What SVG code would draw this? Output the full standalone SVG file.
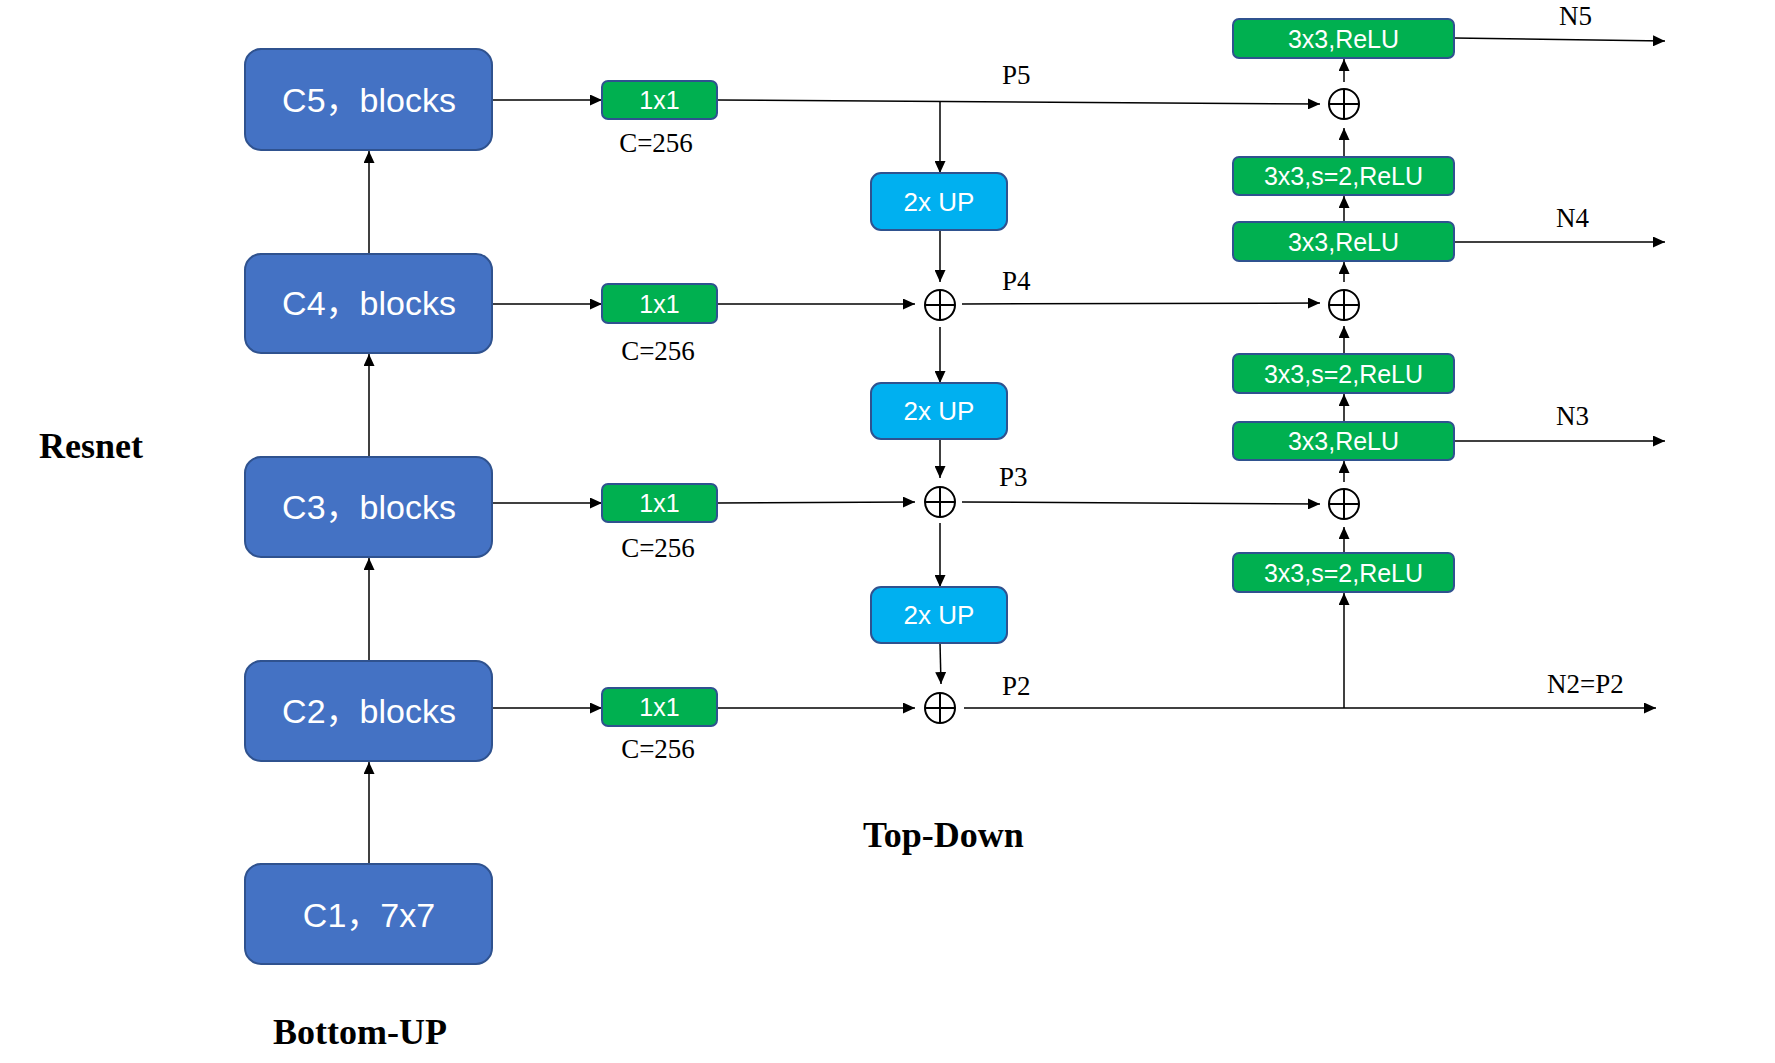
<svg xmlns="http://www.w3.org/2000/svg" width="1775" height="1063" viewBox="0 0 1775 1063">
<style>
.bg{fill:#ffffff}
.cbox{fill:#4472C4;stroke:#2F528F;stroke-width:2}
.gbox{fill:#00B050;stroke:#2F528F;stroke-width:2}
.ubox{fill:#00B0F0;stroke:#2F528F;stroke-width:2}
.ct{font-family:"Liberation Sans","Noto Sans CJK SC",Arial,sans-serif;font-size:34px;fill:#ffffff;text-anchor:middle}
.gt{font-family:"Liberation Sans",Arial,sans-serif;font-size:25px;fill:#ffffff;text-anchor:middle}
.ut{font-family:"Liberation Sans",Arial,sans-serif;font-size:26px;fill:#ffffff;text-anchor:middle}
.lbl{font-family:"Liberation Serif","Times New Roman",serif;font-size:27px;fill:#000000}
.hdr{font-family:"Liberation Serif","Times New Roman",serif;font-size:36px;font-weight:bold;fill:#000000}
.ln{fill:none;stroke:#000000;stroke-width:1.5}
.arr{fill:none;stroke:#000000;stroke-width:1.5;marker-end:url(#ah)}
.sum circle{fill:none;stroke:#000000;stroke-width:2}
.sum line{stroke:#000000;stroke-width:2}
</style>
<defs>
<marker id="ah" markerUnits="userSpaceOnUse" markerWidth="12" markerHeight="11" refX="12" refY="5.5" orient="auto">
<path d="M0,0 L12,5.5 L0,11 z" fill="#000000"/>
</marker>
</defs>
<rect class="bg" x="0" y="0" width="1775" height="1063"/>

<g id="connectors">
<line class="arr" x1="369" y1="864" x2="369" y2="762"/>
<line class="arr" x1="369" y1="661" x2="369" y2="558"/>
<line class="arr" x1="369" y1="457" x2="369" y2="354"/>
<line class="arr" x1="369" y1="254" x2="369" y2="151"/>
<line class="arr" x1="492" y1="100" x2="602" y2="100"/>
<line class="arr" x1="492" y1="304" x2="602" y2="304"/>
<line class="arr" x1="492" y1="503" x2="602" y2="503"/>
<line class="arr" x1="492" y1="708" x2="602" y2="708"/>
<line class="arr" x1="717" y1="100" x2="1320" y2="104"/>
<line class="arr" x1="940" y1="101.5" x2="940" y2="173"/>
<line class="arr" x1="717" y1="304" x2="915" y2="304"/>
<line class="arr" x1="717" y1="503" x2="915" y2="502"/>
<line class="arr" x1="717" y1="708" x2="915" y2="708"/>
<line class="arr" x1="940" y1="230" x2="940" y2="282"/>
<line class="arr" x1="940" y1="327" x2="940" y2="383"/>
<line class="arr" x1="940" y1="439" x2="940" y2="478"/>
<line class="arr" x1="940" y1="523" x2="940" y2="587"/>
<line class="arr" x1="940" y1="643" x2="941" y2="684"/>
<line class="arr" x1="962" y1="304" x2="1320" y2="303"/>
<line class="arr" x1="962" y1="502" x2="1320" y2="504"/>
<line class="arr" x1="964" y1="708" x2="1656" y2="708"/>
<line class="arr" x1="1344" y1="708" x2="1344" y2="593"/>
<line class="arr" x1="1344" y1="82" x2="1344" y2="59"/>
<line class="arr" x1="1344" y1="157" x2="1344" y2="128"/>
<line class="arr" x1="1344" y1="222" x2="1344" y2="196"/>
<line class="arr" x1="1344" y1="282" x2="1344" y2="262"/>
<line class="arr" x1="1344" y1="354" x2="1344" y2="326"/>
<line class="arr" x1="1344" y1="422" x2="1344" y2="394"/>
<line class="arr" x1="1344" y1="482" x2="1344" y2="461"/>
<line class="arr" x1="1344" y1="553" x2="1344" y2="527"/>
<line class="arr" x1="1454" y1="38" x2="1665" y2="41"/>
<line class="arr" x1="1454" y1="242" x2="1665" y2="242"/>
<line class="arr" x1="1454" y1="441" x2="1665" y2="441"/>
</g>

<g id="c5"><rect class="cbox" x="245" y="49" width="247" height="101" rx="16"/><text class="ct" x="369" y="112">C5，blocks</text></g>
<g id="c4"><rect class="cbox" x="245" y="254" width="247" height="99" rx="16"/><text class="ct" x="369" y="315">C4，blocks</text></g>
<g id="c3"><rect class="cbox" x="245" y="457" width="247" height="100" rx="16"/><text class="ct" x="369" y="519">C3，blocks</text></g>
<g id="c2"><rect class="cbox" x="245" y="661" width="247" height="100" rx="16"/><text class="ct" x="369" y="723">C2，blocks</text></g>
<g id="c1"><rect class="cbox" x="245" y="864" width="247" height="100" rx="16"/><text class="ct" x="369" y="927">C1，7x7</text></g>

<g id="l5"><rect class="gbox" x="602" y="81" width="115" height="38" rx="6"/><text class="gt" x="659.5" y="109">1x1</text></g>
<g id="l4"><rect class="gbox" x="602" y="284" width="115" height="39" rx="6"/><text class="gt" x="659.5" y="313">1x1</text></g>
<g id="l3"><rect class="gbox" x="602" y="484" width="115" height="38" rx="6"/><text class="gt" x="659.5" y="512">1x1</text></g>
<g id="l2"><rect class="gbox" x="602" y="688" width="115" height="38" rx="6"/><text class="gt" x="659.5" y="716">1x1</text></g>

<g id="up1"><rect class="ubox" x="871" y="173" width="136" height="57" rx="10"/><text class="ut" x="939" y="211">2x UP</text></g>
<g id="up2"><rect class="ubox" x="871" y="383" width="136" height="56" rx="10"/><text class="ut" x="939" y="420">2x UP</text></g>
<g id="up3"><rect class="ubox" x="871" y="587" width="136" height="56" rx="10"/><text class="ut" x="939" y="624">2x UP</text></g>

<g id="sumP4" class="sum"><circle cx="940" cy="305" r="15"/><line x1="925" y1="305" x2="955" y2="305"/><line x1="940" y1="290" x2="940" y2="320"/></g>
<g id="sumP3" class="sum"><circle cx="940" cy="502" r="15"/><line x1="925" y1="502" x2="955" y2="502"/><line x1="940" y1="487" x2="940" y2="517"/></g>
<g id="sumP2" class="sum"><circle cx="940" cy="708" r="15"/><line x1="925" y1="708" x2="955" y2="708"/><line x1="940" y1="693" x2="940" y2="723"/></g>
<g id="sumN5" class="sum"><circle cx="1344" cy="104" r="15"/><line x1="1329" y1="104" x2="1359" y2="104"/><line x1="1344" y1="89" x2="1344" y2="119"/></g>
<g id="sumN4" class="sum"><circle cx="1344" cy="305" r="15"/><line x1="1329" y1="305" x2="1359" y2="305"/><line x1="1344" y1="290" x2="1344" y2="320"/></g>
<g id="sumN3" class="sum"><circle cx="1344" cy="504" r="15"/><line x1="1329" y1="504" x2="1359" y2="504"/><line x1="1344" y1="489" x2="1344" y2="519"/></g>

<g id="n5conv"><rect class="gbox" x="1233" y="19" width="221" height="39" rx="6"/><text class="gt" x="1343.5" y="48">3x3,ReLU</text></g>
<g id="down4"><rect class="gbox" x="1233" y="157" width="221" height="38" rx="6"/><text class="gt" x="1343.5" y="185">3x3,s=2,ReLU</text></g>
<g id="n4conv"><rect class="gbox" x="1233" y="222" width="221" height="39" rx="6"/><text class="gt" x="1343.5" y="251">3x3,ReLU</text></g>
<g id="down3"><rect class="gbox" x="1233" y="354" width="221" height="39" rx="6"/><text class="gt" x="1343.5" y="383">3x3,s=2,ReLU</text></g>
<g id="n3conv"><rect class="gbox" x="1233" y="422" width="221" height="38" rx="6"/><text class="gt" x="1343.5" y="450">3x3,ReLU</text></g>
<g id="down2"><rect class="gbox" x="1233" y="553" width="221" height="39" rx="6"/><text class="gt" x="1343.5" y="582">3x3,s=2,ReLU</text></g>

<g id="labels">
<text class="lbl" x="656" y="152" text-anchor="middle">C=256</text>
<text class="lbl" x="658" y="360" text-anchor="middle">C=256</text>
<text class="lbl" x="658" y="557" text-anchor="middle">C=256</text>
<text class="lbl" x="658" y="758" text-anchor="middle">C=256</text>
<text class="lbl" x="1002" y="84">P5</text>
<text class="lbl" x="1002" y="290">P4</text>
<text class="lbl" x="999" y="486">P3</text>
<text class="lbl" x="1002" y="695">P2</text>
<text class="lbl" x="1559" y="25">N5</text>
<text class="lbl" x="1556" y="227">N4</text>
<text class="lbl" x="1556" y="425">N3</text>
<text class="lbl" x="1547" y="693">N2=P2</text>
<text class="hdr" x="39" y="458">Resnet</text>
<text class="hdr" x="273" y="1044">Bottom-UP</text>
<text class="hdr" x="863" y="847">Top-Down</text>
</g>
</svg>
